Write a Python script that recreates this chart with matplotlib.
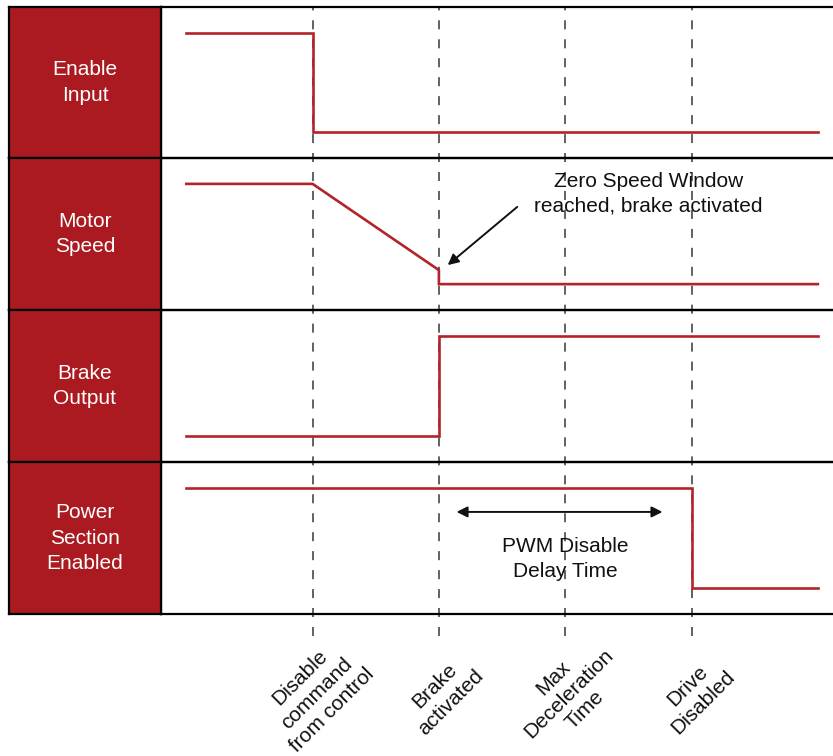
import matplotlib
matplotlib.use('Agg')
import matplotlib.pyplot as plt
from matplotlib import transforms

plt.rcParams['font.family'] = ['Liberation Sans', 'DejaVu Sans']

# signal names shown in the red column
row_labels = ['Enable\nInput', 'Motor\nSpeed', 'Brake\nOutput', 'Power\nSection\nEnabled']

# time points (one unit = one event spacing) and levels (0 = low, 1 = high)
enable_t = [0, 1, 1, 5]
enable_v = [1, 1, 0, 0]
speed_t = [0, 1, 2, 2, 5]
speed_v = [1, 1, 0.14, 0, 0]
brake_t = [0, 2, 2, 5]
brake_v = [0, 0, 1, 1]
power_t = [0, 4, 4, 5]
power_v = [1, 1, 0, 0]

event_t = [1, 2, 3, 4]
event_labels = ['Disable\ncommand\nfrom control', 'Brake\nactivated',
                'Max\nDeceleration\nTime', 'Drive\nDisabled']

W, H = 833, 756
RED = '#aa1a20'
LINE_RED = '#b3232a'


def box(x0, y0, x1, y1):
    # pixel box (top-left origin) -> figure fraction rect
    return [x0 / W, 1 - y1 / H, (x1 - x0) / W, (y1 - y0) / H]


fig = plt.figure(figsize=(W / 100, H / 100), dpi=100)

xlim = (-0.2, 5.12)
ylim = (-0.258, 1.258)

# background axes for the dashed event lines
ax_bg = fig.add_axes(box(161, 7, 833, 636), zorder=0)
ax_bg.set_xlim(xlim)
ax_bg.set_ylim(0, 1)
ax_bg.axis('off')
for t in event_t:
    ax_bg.axvline(t, color='#555555', lw=1.3, ls=(0, (5, 5.5)))

rows = [(7, 158), (158, 310), (310, 462), (462, 614)]
series = [(enable_t, enable_v), (speed_t, speed_v), (brake_t, brake_v), (power_t, power_v)]
sig_axes = []
for (y0, y1), label, (ts, vs) in zip(rows, row_labels, series):
    axl = fig.add_axes(box(9, y0, 161, y1), zorder=2)
    axl.set_facecolor(RED)
    axl.set_xticks([])
    axl.set_yticks([])
    for s in axl.spines.values():
        s.set_linewidth(1.6)
        s.set_color('black')
    axl.text(0.5, 0.5, label, color='white', fontsize=15, ha='center', va='center',
             linespacing=1.45, transform=axl.transAxes)

    ax = fig.add_axes(box(161, y0, 833, y1), zorder=1)
    ax.set_facecolor('none')
    ax.set_xlim(xlim)
    ax.set_ylim(ylim)
    ax.set_xticks([])
    ax.set_yticks([])
    ax.spines['right'].set_visible(False)
    for s in ['top', 'bottom', 'left']:
        ax.spines[s].set_linewidth(1.6)
    ax.plot(ts, vs, color=LINE_RED, lw=1.9, solid_joinstyle='miter')
    sig_axes.append(ax)

# annotation in the motor speed row
ax_speed = sig_axes[1]
ax_speed.text(3.66, 0.9, 'Zero Speed Window\nreached, brake activated', fontsize=15,
              ha='center', va='center', linespacing=1.35, color='#111111')
ax_speed.annotate('', xy=(2.07, 0.19), xytext=(2.62, 0.77),
                  arrowprops=dict(arrowstyle='-|>', color='#111111', lw=1.4,
                                  mutation_scale=16, shrinkA=0, shrinkB=0))

# PWM delay arrow in the power row
ax_pow = sig_axes[3]
ax_pow.annotate('', xy=(2.14, 0.76), xytext=(3.77, 0.76),
                arrowprops=dict(arrowstyle='<|-|>', color='#111111', lw=1.4,
                                mutation_scale=16, shrinkA=0, shrinkB=0))
ax_pow.text(3.0, 0.29, 'PWM Disable\nDelay Time', fontsize=15, ha='center', va='center',
            linespacing=1.35, color='#111111')

# event labels below the chart
trans = transforms.blended_transform_factory(ax_bg.transData, fig.transFigure)
for t, lab in zip(event_t, event_labels):
    fig.text(t + 0.03, 1 - 694 / H, lab, transform=trans, rotation=45, fontsize=15,
             ha='center', va='center', multialignment='center', linespacing=1.25,
             color='#111111')

fig.savefig('out.png', dpi=100)
